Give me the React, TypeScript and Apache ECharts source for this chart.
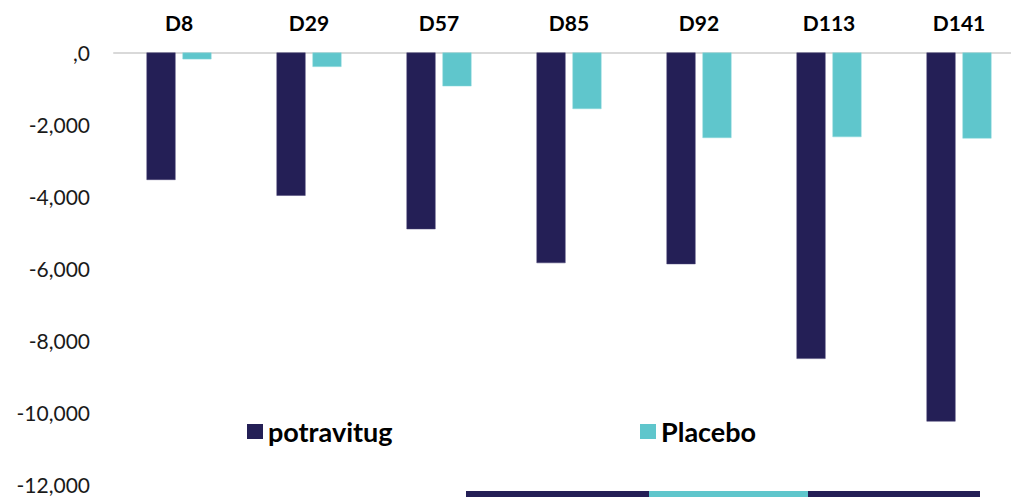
import React, { useEffect, useRef } from "react";
import * as echarts from "echarts";

const categories = ["D8", "D29", "D57", "D85", "D92", "D113", "D141"];
const potravitugValues = [-3540, -3980, -4910, -5850, -5880, -8510, -10250];
const placeboValues = [-190, -400, -940, -1570, -2375, -2350, -2390];
const seriesNames = ["potravitug", "Placebo"];

const NAVY = "#241F56";
const TEAL = "#5FC6CC";
const FONT = "Lato";

export default function App() {
  const ref = useRef<HTMLDivElement>(null);
  useEffect(() => {
    if (!ref.current) return;
    const chart = echarts.init(ref.current, null, { renderer: "svg" });
    const legendText = {
      fontFamily: FONT,
      fontWeight: "bold",
      fontSize: 27,
      color: "#000000",
    };
    chart.setOption({
      animation: false,
      backgroundColor: "#ffffff",
      grid: {
        left: 114,
        top: 52.5,
        width: 910,
        height: 432,
        outerBoundsMode: "none",
        containLabel: false,
      },
      xAxis: {
        type: "category",
        position: "top",
        data: categories,
        axisLine: { show: true, lineStyle: { color: "#d9d9d9", width: 2 } },
        axisTick: { show: false },
        axisLabel: {
          margin: 20,
          fontFamily: FONT,
          fontWeight: "bold",
          fontSize: 21,
          color: "#000000",
        },
      },
      yAxis: {
        type: "value",
        min: -12000,
        max: 0,
        interval: 2000,
        axisLine: { show: false },
        axisTick: { show: false },
        splitLine: { show: false },
        axisLabel: {
          margin: 24,
          fontFamily: FONT,
          fontSize: 21,
          color: "#1a1a1a",
          formatter: (v: number) =>
            v === 0 ? ",0" : v.toLocaleString("en-US"),
        },
      },
      legend: [
        {
          data: [seriesNames[0]],
          left: 242,
          top: 413,
          itemWidth: 16,
          itemHeight: 15,
          icon: "rect",
          itemStyle: { borderWidth: 0 },
          textStyle: legendText,
        },
        {
          data: [seriesNames[1]],
          left: 635,
          top: 413,
          itemWidth: 16,
          itemHeight: 15,
          icon: "rect",
          itemStyle: { borderWidth: 0 },
          textStyle: legendText,
        },
      ],
      series: [
        {
          name: seriesNames[0],
          type: "bar",
          data: potravitugValues,
          barWidth: 29,
          barGap: "24%",
          itemStyle: { color: NAVY, borderColor: "#4a4577", borderWidth: 0.5 },
        },
        {
          name: seriesNames[1],
          type: "bar",
          data: placeboValues,
          barWidth: 29,
          barGap: "24%",
          itemStyle: { color: TEAL, borderColor: "#8fdadd", borderWidth: 0.5 },
        },
      ],
      graphic: [
        { type: "rect", shape: { x: 466, y: 491, width: 183, height: 6 }, style: { fill: NAVY } },
        { type: "rect", shape: { x: 649, y: 491, width: 159, height: 6 }, style: { fill: TEAL } },
        { type: "rect", shape: { x: 808, y: 491, width: 172, height: 6 }, style: { fill: NAVY } },
      ],
    });
    return () => chart.dispose();
  }, []);
  return (
    <div
      ref={ref}
      style={{ position: "fixed", left: 0, top: 0, width: 1011, height: 497 }}
    />
  );
}
